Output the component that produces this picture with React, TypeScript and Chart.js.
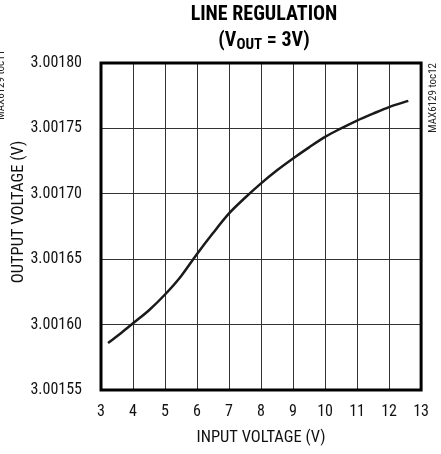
import React, { useEffect, useRef } from "react";
import { Chart, registerables } from "chart.js";

Chart.register(...registerables);

const inputVoltage = [3.22, 3.6, 4.0, 4.5, 5.0, 5.5, 6.0, 6.5, 7.0, 7.5, 8.0, 8.5, 9.0, 9.5, 10.0, 10.5, 11.0, 11.5, 12.0, 12.6];
const outputVoltage = [3.001586, 3.001593, 3.001601, 3.001611, 3.001623, 3.001637, 3.001654, 3.001670, 3.001685, 3.001697, 3.001708, 3.001718, 3.001727, 3.0017355, 3.0017435, 3.00175, 3.001756, 3.0017613, 3.0017663, 3.001771];
const xTicks = [3, 4, 5, 6, 7, 8, 9, 10, 11, 12, 13];
const yTicks = [3.00155, 3.0016, 3.00165, 3.0017, 3.00175, 3.0018];
const titleLine1 = "LINE REGULATION";
const xTitle = "INPUT VOLTAGE (V)";
const yTitle = "OUTPUT VOLTAGE (V)";
const tocRight = "MAX6129 toc12";
const tocLeft = "MAX6129 toc11";

const FONT = "'Roboto Condensed', 'Liberation Sans', Arial, sans-serif";

export default function App() {
  const ref = useRef<HTMLCanvasElement | null>(null);
  useEffect(() => {
    document.body.style.margin = "0";
    const canvas = ref.current!;
    const decor = {
      id: "decor",
      afterDraw(chart: any) {
        const ctx = chart.ctx as CanvasRenderingContext2D;
        const a = chart.chartArea;
        ctx.save();
        ctx.strokeStyle = "#000";
        ctx.lineWidth = 3;
        ctx.strokeRect(a.left, a.top, a.right - a.left, a.bottom - a.top);
        ctx.fillStyle = "#000";
        ctx.textAlign = "center";
        ctx.textBaseline = "alphabetic";
        ctx.font = `bold 20px ${FONT}`;
        const cx = 264;
        ctx.fillText(titleLine1, cx, 20);
        const p1 = "(V";
        const sub = "OUT";
        const p2 = " = 3V)";
        const bigFont = `bold 20px ${FONT}`;
        const subFont = `bold 15px ${FONT}`;
        ctx.font = bigFont;
        const w1 = ctx.measureText(p1).width;
        const w3 = ctx.measureText(p2).width;
        ctx.font = subFont;
        const w2 = ctx.measureText(sub).width;
        let x = cx - (w1 + w2 + w3) / 2;
        ctx.textAlign = "left";
        ctx.font = bigFont;
        ctx.fillText(p1, x, 46);
        x += w1;
        ctx.font = subFont;
        ctx.fillText(sub, x, 49);
        x += w2;
        ctx.font = bigFont;
        ctx.fillText(p2, x, 46);
        ctx.fillStyle = "#111";
        ctx.font = `16.5px ${FONT}`;
        ctx.textAlign = "center";
        ctx.textBaseline = "middle";
        ctx.fillText(xTitle, (a.left + a.right) / 2, 438);
        ctx.save();
        ctx.translate(19, 212);
        ctx.rotate(-Math.PI / 2);
        ctx.fillText(yTitle, 0, 0);
        ctx.restore();
        ctx.font = `11px ${FONT}`;
        ctx.fillStyle = "#222";
        ctx.save();
        ctx.translate(433, 63);
        ctx.rotate(-Math.PI / 2);
        ctx.textAlign = "right";
        ctx.textBaseline = "middle";
        ctx.fillText(tocRight, 0, 0);
        ctx.restore();
        ctx.save();
        ctx.translate(1, 50);
        ctx.rotate(-Math.PI / 2);
        ctx.textAlign = "right";
        ctx.textBaseline = "middle";
        ctx.fillText(tocLeft, 0, 0);
        ctx.restore();
        ctx.restore();
      },
    };
    const chart = new Chart(canvas, {
      type: "line",
      data: {
        datasets: [
          {
            data: inputVoltage.map((x, i) => ({ x, y: outputVoltage[i] })),
            borderColor: "#1a1a1a",
            borderWidth: 2.5,
            pointRadius: 0,
            cubicInterpolationMode: "monotone",
            fill: false,
          },
        ],
      },
      options: {
        animation: false,
        responsive: false,
        maintainAspectRatio: false,
        layout: { padding: { top: 63, right: 15, left: 0, bottom: 0 } },
        plugins: { legend: { display: false }, tooltip: { enabled: false }, title: { display: false } },
        scales: {
          x: {
            type: "linear",
            min: 3,
            max: 13,
            afterBuildTicks: (s: any) => {
              s.ticks = xTicks.map((v) => ({ value: v }));
            },
            afterFit: (s: any) => {
              s.height = 64;
            },
            grid: { color: "#333", lineWidth: 1, drawTicks: false },
            border: { display: false },
            ticks: {
              color: "#111",
              font: { family: FONT, size: 16 },
              padding: 12,
              maxRotation: 0,
              autoSkip: false,
            },
          },
          y: {
            type: "linear",
            min: 3.00155,
            max: 3.0018,
            afterBuildTicks: (s: any) => {
              s.ticks = yTicks.map((v) => ({ value: v }));
            },
            afterFit: (s: any) => {
              s.width = 101;
            },
            grid: { color: "#333", lineWidth: 1, drawTicks: false },
            border: { display: false },
            ticks: {
              color: "#111",
              font: { family: FONT, size: 16 },
              padding: 19,
              autoSkip: false,
              callback: (v: any) => Number(v).toFixed(5),
            },
          },
        },
      },
      plugins: [decor],
    });
    return () => chart.destroy();
  }, []);
  return (
    <div style={{ position: "absolute", left: 0, top: 0, width: 441, height: 454, background: "#fff" }}>
      <canvas ref={ref} width={441} height={454} style={{ width: 441, height: 454 }} />
    </div>
  );
}
